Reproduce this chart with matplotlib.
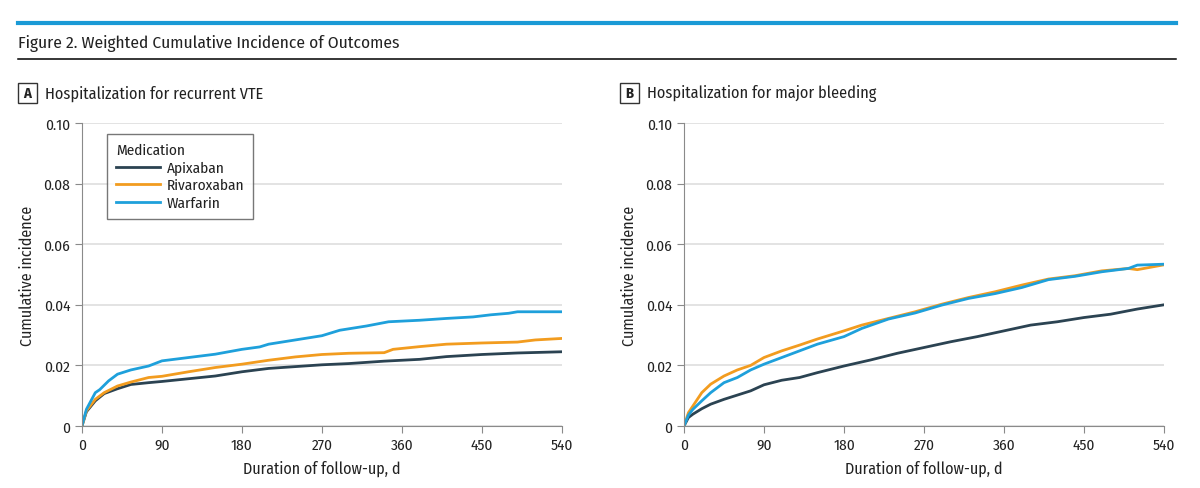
import matplotlib.pyplot as plt
from matplotlib.lines import Line2D
from matplotlib.patches import Rectangle

plt.rcParams['font.family'] = ['Fira Sans Condensed', 'DejaVu Sans']

# panel A: hospitalization for recurrent VTE
days_a_warf = [0, 5, 15, 20, 30, 40, 55, 75, 90, 120, 150, 180, 200, 210, 240, 270, 290,
               320, 345, 380, 410, 440, 460, 480, 490, 540]
warf_a = [0, 0.0055, 0.011, 0.012, 0.0149, 0.0171, 0.0185, 0.0198, 0.0215, 0.0226, 0.0237,
          0.0253, 0.0261, 0.027, 0.0284, 0.0298, 0.0316, 0.033, 0.0344, 0.0349, 0.0355,
          0.036, 0.0367, 0.0372, 0.0377, 0.0377]
days_a_riva = [0, 5, 15, 25, 40, 55, 75, 90, 120, 150, 180, 210, 240, 270, 300, 340, 350,
               380, 410, 450, 490, 510, 540]
riva_a = [0, 0.005, 0.0088, 0.011, 0.0132, 0.0145, 0.016, 0.0164, 0.0179, 0.0193, 0.0204,
          0.0217, 0.0228, 0.0236, 0.024, 0.0242, 0.0253, 0.0262, 0.027, 0.0274, 0.0277,
          0.0284, 0.0289]
days_a_apix = [0, 5, 15, 25, 40, 55, 75, 90, 120, 150, 180, 210, 240, 270, 300, 340, 380,
               410, 450, 490, 540]
apix_a = [0, 0.0047, 0.0083, 0.0107, 0.0123, 0.0137, 0.0143, 0.0147, 0.0156, 0.0165, 0.0179,
          0.019, 0.0196, 0.0202, 0.0206, 0.0214, 0.022, 0.0229, 0.0236, 0.0241, 0.0245]

# panel B: hospitalization for major bleeding
days_b = [0, 5, 10, 20, 30, 45, 60, 75, 90, 110, 130, 150, 180, 200, 230, 260, 290, 320,
          350, 380, 410, 440, 470, 500, 510, 540]
riva_b = [0, 0.0044, 0.0066, 0.011, 0.0138, 0.0165, 0.0185, 0.02, 0.0226, 0.0248, 0.0267,
          0.0287, 0.0314, 0.0333, 0.0355, 0.0377, 0.0402, 0.0424, 0.0443, 0.0465, 0.0485,
          0.0496, 0.0512, 0.052, 0.0516, 0.0532]
warf_b = [0, 0.0036, 0.0055, 0.0083, 0.011, 0.0143, 0.016, 0.0185, 0.0204, 0.0226, 0.0248,
          0.027, 0.0295, 0.0322, 0.0353, 0.0373, 0.0399, 0.0421, 0.0437, 0.0457, 0.0483,
          0.0494, 0.0509, 0.052, 0.0531, 0.0534]
days_b_apix = [0, 5, 10, 20, 30, 45, 60, 75, 90, 110, 130, 150, 180, 210, 240, 270, 300,
               330, 360, 390, 420, 450, 480, 510, 540]
apix_b = [0, 0.0028, 0.0039, 0.0057, 0.0072, 0.0088, 0.0102, 0.0116, 0.0136, 0.0151, 0.016,
          0.0176, 0.0198, 0.0218, 0.024, 0.0259, 0.0278, 0.0295, 0.0314, 0.0333, 0.0344,
          0.0358, 0.0369, 0.0386, 0.04]

x_ticks = [0, 90, 180, 270, 360, 450, 540]
y_ticks = [0, 0.02, 0.04, 0.06, 0.08, 0.10]
y_tick_labels = ['0', '0.02', '0.04', '0.06', '0.08', '0.10']

c_apix = '#2b4352'
c_riva = '#f29c1f'
c_warf = '#1ea0db'
axis_gray = '#8a8a8a'
text_col = '#222222'

fig = plt.figure(figsize=(12, 4.89), dpi=100)

# header rules and title
fig.add_artist(Line2D([0.015, 0.98], [1 - 24 / 489] * 2, color='#1a9ad6', lw=3))
fig.add_artist(Line2D([0.015, 0.98], [1 - 60 / 489] * 2, color='black', lw=1.1))
fig.text(0.015, 1 - 43 / 489, 'Figure 2. Weighted Cumulative Incidence of Outcomes',
         fontsize=12.5, va='center', ha='left', color=text_col)


def panel(left, letter, heading):
    ax = fig.add_axes([left, 0.1268, 0.4, 0.6196])
    ax.set_xlim(0, 540)
    ax.set_ylim(0, 0.10)
    ax.set_xticks(x_ticks)
    ax.set_yticks(y_ticks)
    ax.set_yticklabels(y_tick_labels)
    ax.grid(axis='y', color='#dedede', lw=1.2)
    ax.set_axisbelow(True)
    for s in ['top', 'right']:
        ax.spines[s].set_visible(False)
    for s in ['left', 'bottom']:
        ax.spines[s].set_color(axis_gray)
    ax.tick_params(colors=axis_gray, labelcolor=text_col, labelsize=11, length=5)
    ax.set_xlabel('Duration of follow-up, d', fontsize=11.5, color=text_col)
    ax.set_ylabel('Cumulative incidence', fontsize=11.5, color=text_col)
    ax.yaxis.set_label_coords(-0.098, 0.5)
    ax.xaxis.set_label_coords(0.5, -0.11)
    # panel letter box and heading
    bx = left - 64 / 1200
    fig.add_artist(Rectangle((bx, 1 - 104 / 489), 19 / 1200, 20 / 489, transform=fig.transFigure,
                             fill=False, edgecolor='#333333', lw=1))
    fig.text(bx + 9.5 / 1200, 1 - 94 / 489, letter, fontsize=10.5, fontweight='bold',
             ha='center', va='center', color=text_col)
    fig.text(bx + 27 / 1200, 1 - 94 / 489, heading, fontsize=11.7, ha='left', va='center',
             color=text_col)
    return ax


ax1 = panel(0.0683, 'A', 'Hospitalization for recurrent VTE')
ax1.plot(days_a_apix, apix_a, color=c_apix, lw=2, label='Apixaban')
ax1.plot(days_a_riva, riva_a, color=c_riva, lw=2, label='Rivaroxaban')
ax1.plot(days_a_warf, warf_a, color=c_warf, lw=2, label='Warfarin')
leg = ax1.legend(title='Medication', loc='upper left', bbox_to_anchor=(0.052, 0.964),
                 borderaxespad=0, fontsize=11, title_fontsize=11, frameon=True,
                 fancybox=False, edgecolor='#555555', handlelength=2.9, handletextpad=0.4,
                 borderpad=0.6, labelspacing=0.22, alignment='left')
leg.get_frame().set_linewidth(1)
for t in leg.get_texts():
    t.set_color(text_col)
leg.get_title().set_color(text_col)

ax2 = panel(0.57, 'B', 'Hospitalization for major bleeding')
ax2.plot(days_b_apix, apix_b, color=c_apix, lw=2)
ax2.plot(days_b, riva_b, color=c_riva, lw=2)
ax2.plot(days_b, warf_b, color=c_warf, lw=2)

fig.savefig('out.png', dpi=100)
